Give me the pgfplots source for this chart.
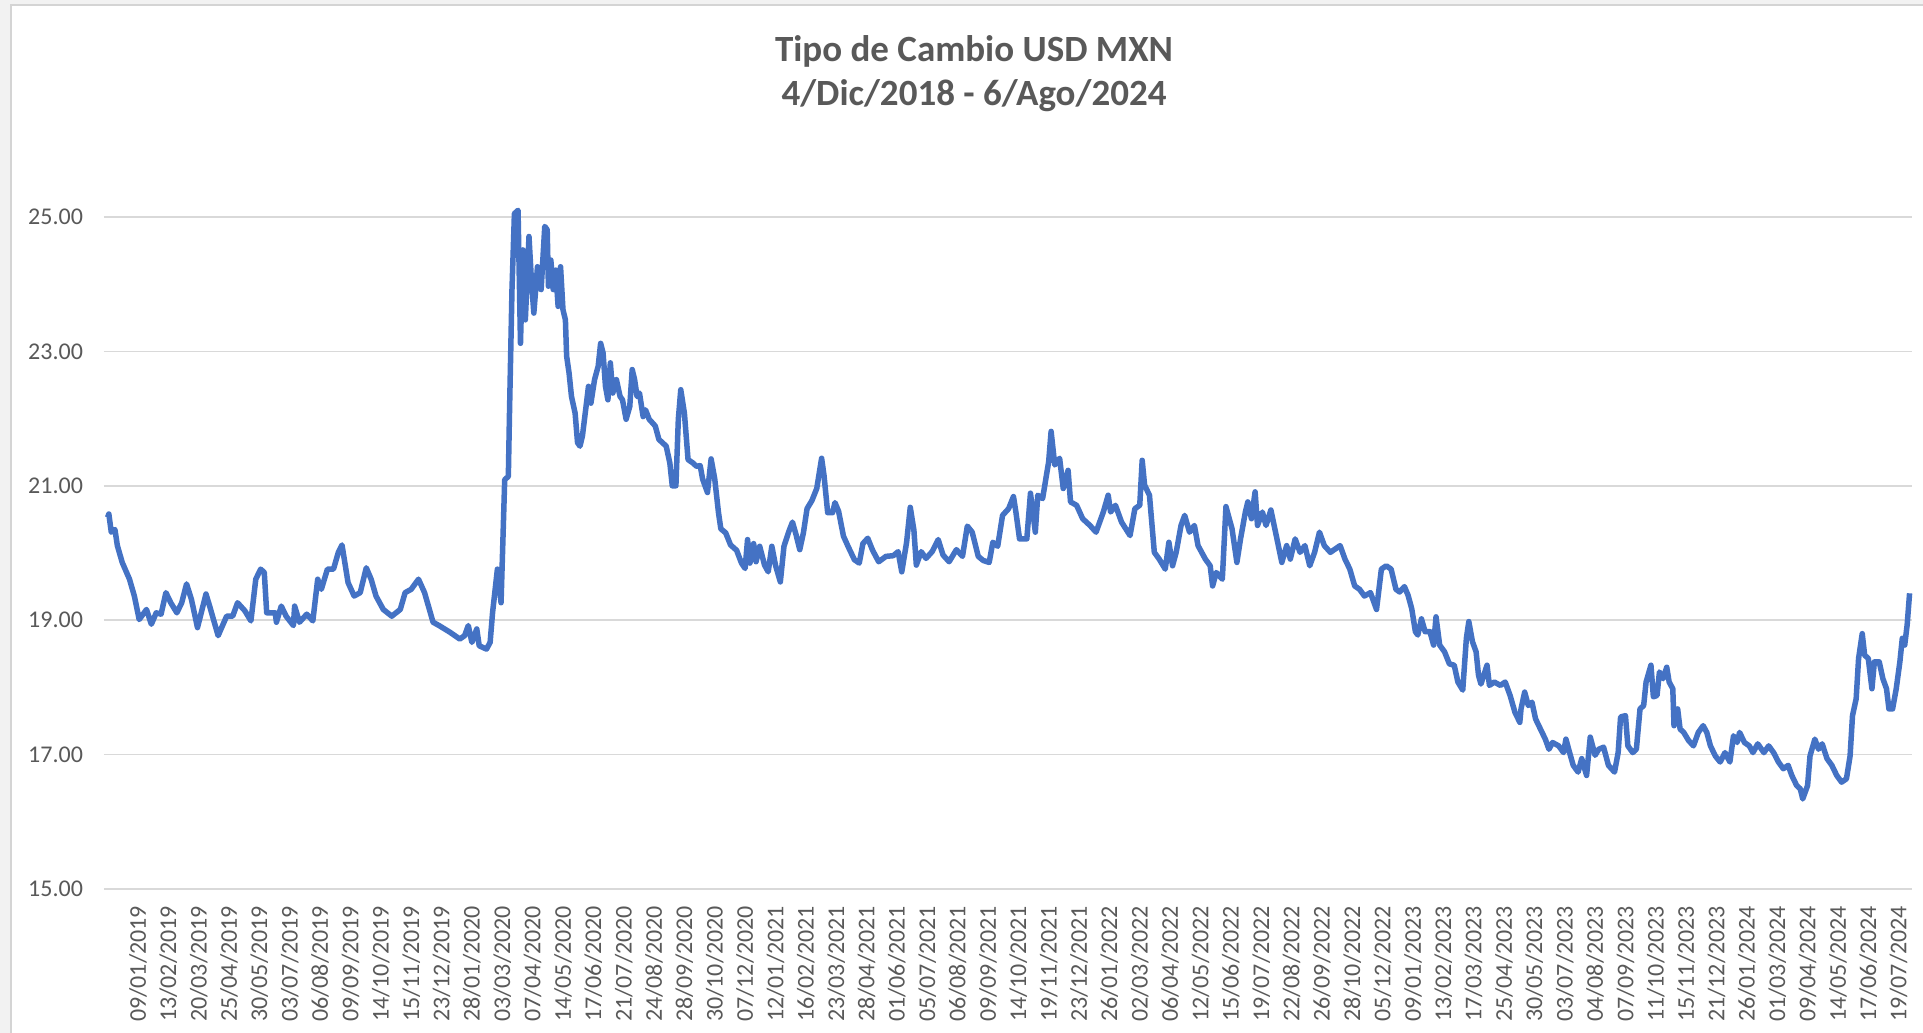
\documentclass[border=0pt]{standalone}
\usepackage{pgfplots}
\pgfplotsset{compat=1.18}
\usepackage{fontspec}
\setmainfont{Carlito}
\definecolor{linecol}{HTML}{4472C4}
\definecolor{txt}{HTML}{595959}
\definecolor{gridc}{HTML}{D9D9D9}
\definecolor{bgray}{HTML}{F2F2F2}
\definecolor{bord}{HTML}{D4D4D4}
\pgfplotstableread{
x y
0 20.53
1 20.58
3 20.31
6 20.35
8 20.11
12 19.86
18 19.61
22 19.36
26 19.01
32 19.16
36 18.94
40 19.11
44 19.09
48 19.41
52 19.26
57 19.11
61 19.26
65 19.54
69 19.31
74 18.89
81 19.39
84 19.21
91 18.77
98 19.06
103 19.06
107 19.26
113 19.14
118 18.99
122 19.61
126 19.76
129 19.71
131 19.11
138 19.11
139 18.97
143 19.21
147 19.06
153 18.92
154 19.21
158 18.97
164 19.09
169 18.99
173 19.61
176 19.46
181 19.76
186 19.76
190 20.01
193 20.12
198 19.56
203 19.36
208 19.41
213 19.78
217 19.61
221 19.36
227 19.16
234 19.06
241 19.16
245 19.41
250 19.46
256 19.61
261 19.41
268 18.97
273 18.92
282 18.82
290 18.72
294 18.77
297 18.92
300 18.67
304 18.87
306 18.62
312 18.57
315 18.67
317 19.11
321 19.76
324 19.26
327 21.09
330 21.14
331 22.13
333 23.92
335 25.05
338 25.10
340 23.12
342 24.51
344 23.47
347 24.71
349 24.06
351 23.57
354 24.26
357 23.92
360 24.86
362 24.81
363 23.97
365 24.36
367 23.92
369 24.21
371 23.67
373 24.26
375 23.62
377 23.47
378 22.93
380 22.68
382 22.33
385 22.08
387 21.64
389 21.59
391 21.74
394 22.18
396 22.48
398 22.23
401 22.58
404 22.78
406 23.12
408 22.98
410 22.48
412 22.28
414 22.83
416 22.38
419 22.58
422 22.33
424 22.28
427 21.99
430 22.18
432 22.73
434 22.58
436 22.33
438 22.38
441 22.03
443 22.13
446 21.99
448 21.95
451 21.89
454 21.69
457 21.64
460 21.59
463 21.34
465 21.00
468 21.00
470 21.99
472 22.43
475 22.08
478 21.39
482 21.34
485 21.29
488 21.30
490 21.10
494 20.90
497 21.40
500 21.10
503 20.61
505 20.36
509 20.30
513 20.12
518 20.04
522 19.85
525 19.77
527 20.20
529 19.85
532 20.14
534 19.87
537 20.10
541 19.82
544 19.72
547 20.10
550 19.82
554 19.57
557 20.10
561 20.32
564 20.46
567 20.27
570 20.05
573 20.30
576 20.66
580 20.78
584 20.96
588 21.41
590 21.15
593 20.60
597 20.60
599 20.75
602 20.62
606 20.25
610 20.09
615 19.90
619 19.85
622 20.14
626 20.22
630 20.04
635 19.87
641 19.95
647 19.96
651 20.02
654 19.72
658 20.16
661 20.68
664 20.34
666 19.82
670 20.02
674 19.92
679 20.02
684 20.20
688 19.97
693 19.87
699 20.05
704 19.95
708 20.40
712 20.31
717 19.95
721 19.89
726 19.86
729 20.16
733 20.10
737 20.56
742 20.66
746 20.84
748 20.61
751 20.21
757 20.21
760 20.89
764 20.31
766 20.86
770 20.81
775 21.36
777 21.81
780 21.31
784 21.41
787 20.96
791 21.23
793 20.76
798 20.71
803 20.51
809 20.41
814 20.31
820 20.61
824 20.86
826 20.61
830 20.71
835 20.46
842 20.26
846 20.66
850 20.71
852 21.38
854 21.01
858 20.86
862 20.01
866 19.91
871 19.76
874 20.16
877 19.81
880 20.01
884 20.41
887 20.56
891 20.31
895 20.41
898 20.11
904 19.91
908 19.81
910 19.51
913 19.71
918 19.61
921 20.69
926 20.36
930 19.86
933 20.21
937 20.61
939 20.76
942 20.51
945 20.91
947 20.41
951 20.61
954 20.41
958 20.64
963 20.21
967 19.86
971 20.11
974 19.91
978 20.21
982 20.01
986 20.11
990 19.81
994 20.01
998 20.31
1002 20.11
1007 20.01
1011 20.06
1015 20.11
1019 19.91
1023 19.76
1027 19.51
1031 19.46
1035 19.36
1040 19.41
1045 19.16
1049 19.76
1053 19.81
1057 19.76
1061 19.46
1064 19.42
1068 19.50
1071 19.37
1074 19.17
1077 18.83
1079 18.78
1082 19.02
1085 18.83
1089 18.83
1092 18.63
1094 19.05
1097 18.63
1101 18.53
1105 18.35
1109 18.33
1112 18.08
1116 17.96
1119 18.73
1121 18.98
1124 18.68
1127 18.53
1129 18.18
1131 18.05
1136 18.33
1138 18.03
1142 18.08
1147 18.03
1151 18.08
1155 17.88
1159 17.63
1163 17.48
1164 17.68
1167 17.93
1170 17.73
1173 17.78
1176 17.53
1180 17.38
1184 17.23
1187 17.08
1190 17.18
1195 17.13
1199 17.03
1201 17.23
1204 17.03
1207 16.84
1211 16.74
1214 16.94
1218 16.69
1221 17.26
1225 16.99
1228 17.08
1232 17.11
1236 16.84
1241 16.74
1244 17.03
1246 17.56
1250 17.58
1252 17.13
1256 17.03
1259 17.08
1262 17.68
1265 17.73
1267 18.08
1271 18.33
1273 17.86
1276 17.88
1278 18.23
1281 18.13
1284 18.30
1286 18.08
1289 17.98
1290 17.43
1293 17.68
1295 17.38
1298 17.33
1302 17.21
1306 17.13
1310 17.33
1314 17.43
1317 17.33
1320 17.13
1324 16.98
1328 16.89
1332 17.03
1336 16.89
1339 17.28
1342 17.18
1344 17.33
1348 17.18
1352 17.13
1355 17.03
1359 17.16
1364 17.03
1368 17.13
1372 17.03
1376 16.89
1380 16.79
1384 16.84
1387 16.69
1391 16.54
1394 16.49
1396 16.34
1400 16.54
1402 16.98
1406 17.23
1409 17.08
1412 17.16
1416 16.94
1420 16.84
1424 16.69
1428 16.59
1432 16.64
1435 16.98
1437 17.58
1440 17.83
1442 18.43
1445 18.80
1447 18.48
1450 18.43
1453 17.98
1455 18.38
1459 18.38
1462 18.13
1465 17.98
1467 17.68
1470 17.68
1473 17.98
1476 18.38
1478 18.73
1480 18.63
1482 18.93
1484 19.40
}\usdmxn
\begin{document}
\begin{tikzpicture}
\useasboundingbox (0,0) rectangle (961.5pt,-516.5pt);
\fill[bgray] (0,0) rectangle (961.5pt,-516.5pt);
\fill[white] (5.5pt,-2.5pt) rectangle (961.5pt,-516.5pt);
\draw[bord, line width=0.75pt] (5.5pt,-516.5pt) -- (5.5pt,-2.5pt) -- (961.5pt,-2.5pt);
\node[text=txt, font=\bfseries\fontsize{18.5}{22}\selectfont, align=center] at (487pt,-36.75pt) {Tipo de Cambio USD MXN\\4/Dic/2018 - 6/Ago/2024};
\begin{axis}[
  at={(52pt,-444.5pt)}, anchor=south west,
  scale only axis, width=904pt, height=336pt,
  xmin=-3, xmax=1486, ymin=15, ymax=25,
  clip=false,
  axis line style={draw=none},
  major tick length=0pt,
  ytick={15,17,19,21,23,25},
  yticklabels={15.00,17.00,19.00,21.00,23.00,25.00},
  ymajorgrids,
  grid style={gridc, line width=0.75pt},
  yticklabel style={font=\fontsize{12}{14}\selectfont, text=txt, anchor=east, xshift=-7pt},
  xtick={25,50,...,1475},
  xticklabels={09/01/2019,13/02/2019,20/03/2019,25/04/2019,30/05/2019,03/07/2019,06/08/2019,09/09/2019,14/10/2019,15/11/2019,23/12/2019,28/01/2020,03/03/2020,07/04/2020,14/05/2020,17/06/2020,21/07/2020,24/08/2020,28/09/2020,30/10/2020,07/12/2020,12/01/2021,16/02/2021,23/03/2021,28/04/2021,01/06/2021,05/07/2021,06/08/2021,09/09/2021,14/10/2021,19/11/2021,23/12/2021,26/01/2022,02/03/2022,06/04/2022,12/05/2022,15/06/2022,19/07/2022,22/08/2022,26/09/2022,28/10/2022,05/12/2022,09/01/2023,13/02/2023,17/03/2023,25/04/2023,30/05/2023,03/07/2023,04/08/2023,07/09/2023,11/10/2023,15/11/2023,21/12/2023,26/01/2024,01/03/2024,09/04/2024,14/05/2024,17/06/2024,19/07/2024},
  xticklabel style={font=\fontsize{12}{14}\selectfont, text=txt, rotate=90, anchor=east, xshift=-5pt},
]
\addplot[linecol, line width=2.75pt, line join=round, mark=none] table[x=x, y=y] {\usdmxn};
\end{axis}
\end{tikzpicture}
\end{document}
